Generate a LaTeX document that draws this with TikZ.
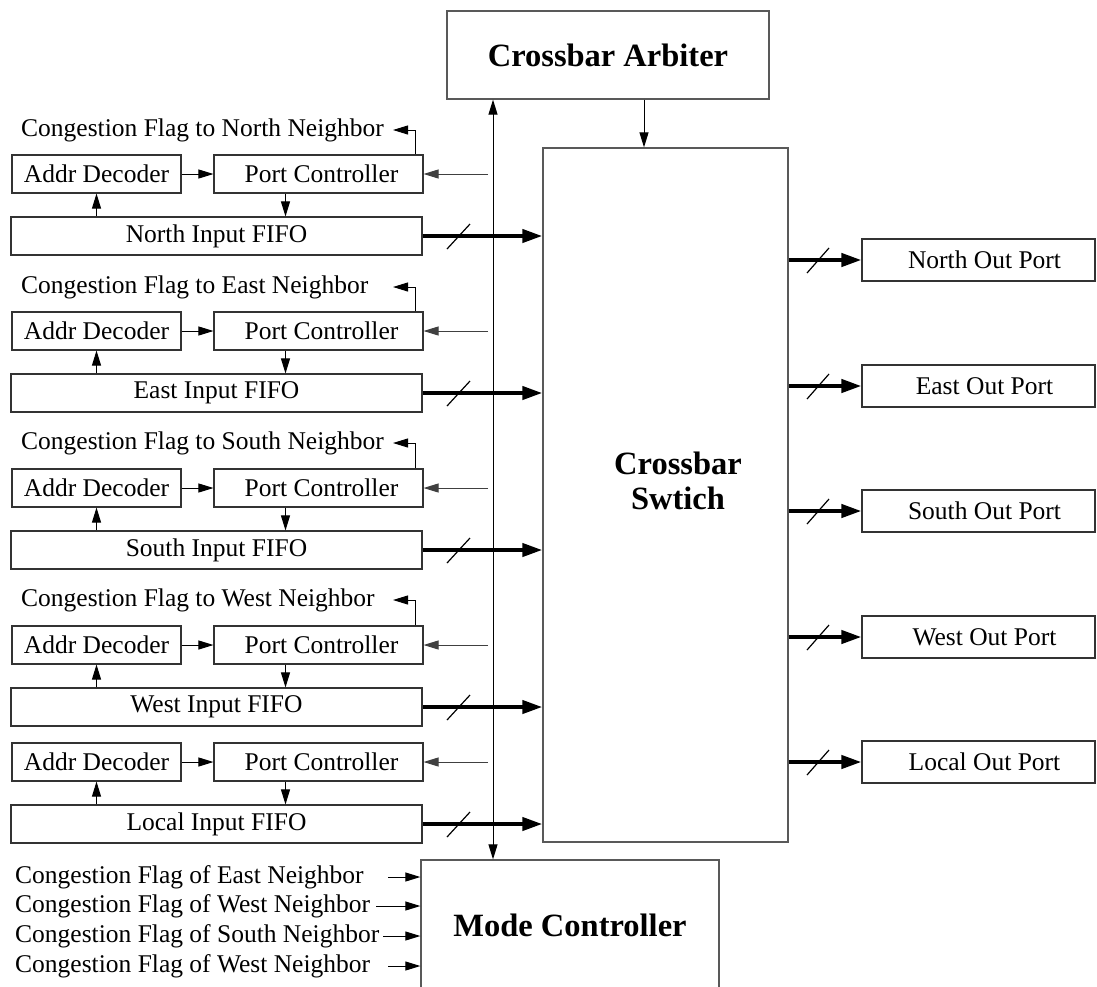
\documentclass[tikz,border=0pt]{standalone}
\usepackage{fontspec}
\setmainfont{Liberation Serif}
\usetikzlibrary{arrows.meta,calc}
\begin{document}
\begin{tikzpicture}[x=1pt,y=-1pt,
  txt/.style={font=\fontsize{25.5}{30}\selectfont},
  box/.style={draw=black!80, line width=1.1pt, inner sep=0pt, minimum height=38pt, txt},
  outbox/.style={draw=black!80, line width=1.1pt, inner sep=0pt, minimum height=42pt, minimum width=233pt, txt},
  big/.style={draw=black!65, line width=1.3pt, inner sep=0pt, font=\bfseries\fontsize{32.5}{35}\selectfont},
  lbl/.style={inner sep=0pt, anchor=west, txt},
  thin/.style={line width=1pt, -{Triangle[length=15pt,width=9pt]}},
  bus/.style={line width=4pt, -{Triangle[length=20pt,width=13pt]}},
  slash/.style={line width=1.2pt},
]
\useasboundingbox (0,0) rectangle (1097,986);

% big blocks
\node[big, minimum width=322pt, minimum height=88pt] (arb) at (608,55) {Crossbar Arbiter};
\node[big, minimum width=245pt, minimum height=694pt] (xbar) at (665.5,495) {};
\node[font=\bfseries\fontsize{32.5}{35}\selectfont, align=center, inner sep=0pt] (xbartxt) at (678,481) {Crossbar\\Swtich};
\node[big, minimum width=298pt, minimum height=130pt] (mode) at (570,925) {Mode Controller};

% vertical bus and arbiter link
\coordinate (vx) at (493,0);
\coordinate (ax) at (644,0);
\draw[line width=1pt, {Triangle[length=15pt,width=9pt]}-{Triangle[length=15pt,width=9pt]}] (vx |- arb.south) -- (vx |- mode.north);
\draw[thin] (ax |- arb.south) -- (ax |- xbar.north);

% input rows
\foreach \n/\yb/\dir in {1/174/North,2/331/East,3/488/South,4/645/West,5/762/Local}{
  \node[box, minimum width=169pt] (ad\n) at (96.5,\yb) {Addr Decoder};
  \node[box, minimum width=209pt] (pc\n) at (318.5,\yb) {\hspace{6pt}Port Controller};
  \node[box, minimum width=411pt] (fi\n) at (216.5,\yb+62) {\dir\ Input FIFO};
  \draw[thin] (ad\n.east) -- (pc\n.west);
  \draw[thin] (ad\n.south |- fi\n.north) -- (ad\n.south);
  \coordinate (pd\n) at ($(pc\n.south)+(-33,0)$);
  \draw[thin] (pd\n) -- (pd\n |- fi\n.north);
  \coordinate (ci\n) at (488,\yb);
  \draw[thin, draw=black!75] (ci\n) -- (pc\n.east);
  \draw[bus] (fi\n.east) -- (xbar.west |- fi\n.east);
  \draw[slash] (447,\yb+62+13) -- (470,\yb+62-12);
}

% congestion flags to neighbours
\foreach \n/\yt/\dir in {1/130/North,2/287/East,3/443/South,4/600/West}{
  \node[lbl] (cf\n) at (21,\yt) {Congestion Flag to \dir\ Neighbor};
  \coordinate (cs\n) at ($(pc\n.north east)+(-8,0)$);
  \coordinate (ct\n) at (393,\yt);
  \draw[thin] (cs\n) |- (ct\n);
}

% output ports
\foreach \n/\yo/\dir in {1/260/North,2/386/East,3/511/South,4/637/West,5/762/Local}{
  \node[outbox] (op\n) at (978.5,\yo) {\hspace{12pt}\dir\ Out Port};
  \draw[bus] (xbar.east |- op\n.west) -- (op\n.west);
  \draw[slash] (807,\yo+13) -- (829,\yo-12);
}

% congestion flags of neighbours into mode controller
\foreach \i/\yy/\d/\xs in {1/877/East/388,2/906/West/376,3/936/South/383,4/966/West/388}{
  \node[lbl] (mf\i) at (15,\yy) {Congestion Flag of \d\ Neighbor};
  \coordinate (ms\i) at (\xs,\yy);
  \draw[thin] (ms\i) -- (mode.west |- ms\i);
}
\end{tikzpicture}
\end{document}
